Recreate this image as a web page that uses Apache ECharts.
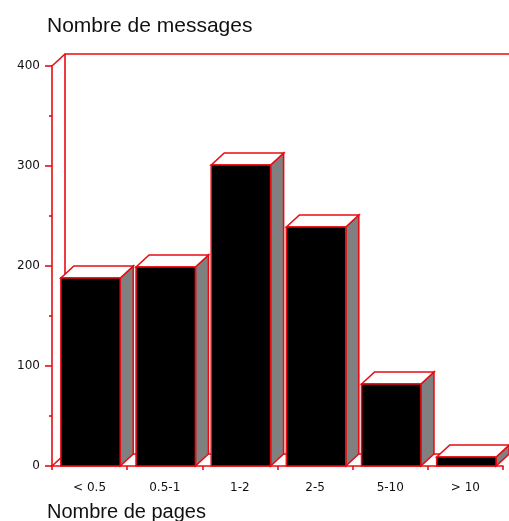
<!DOCTYPE html>
<html>
<head>
<meta charset="utf-8">
<script src="https://cdn.jsdelivr.net/npm/echarts@6/dist/echarts.min.js"></script>
<style>
  html, body { margin: 0; padding: 0; background: #fff; }
  #chart { width: 509px; height: 521px; }
</style>
</head>
<body>
<div id="chart"></div>
<script>
// data
const categories = ["< 0.5", "0.5-1", "1-2", "2-5", "5-10", "> 10"];
const messages = [188, 199, 301, 239, 82, 9];
const yMin = 0, yMax = 400, yStep = 100;
const yTitle = "Nombre de messages";
const xTitle = "Nombre de pages";

const RED = "#e80c14";
const DX = 13, DY = 12; // depth of the 3d effect

const chart = echarts.init(document.getElementById("chart"));

// back wall, left wall and floor of the 3d box
function renderWalls(params, api) {
  const cs = params.coordSys;
  const l = cs.x, t = cs.y, r = cs.x + cs.width, b = cs.y + cs.height;
  const line = { stroke: RED, lineWidth: 1.6, fill: null };
  return {
    type: "group",
    silent: true,
    children: [
      { type: "polygon", shape: { points: [[l + DX, t - DY], [r + DX, t - DY], [r + DX, b - DY], [l + DX, b - DY]] },
        style: { fill: "#fff", stroke: RED, lineWidth: 1.6 } },
      { type: "polyline", shape: { points: [[l, t], [l + DX, t - DY]] }, style: line },
      { type: "polyline", shape: { points: [[l, b], [l + DX, b - DY]] }, style: line }
    ]
  };
}

// one 3d bar: front face, top face, right face
function renderBar(params, api) {
  const i = api.value(0), v = api.value(1);
  const base = api.coord([i, 0]);
  const top = api.coord([i, v]);
  const w = api.size([1, 0])[0] * 0.79;
  const x0 = base[0] - w / 2 + 1, x1 = x0 + w;
  const yb = base[1], yt = top[1];
  return {
    type: "group",
    children: [
      { type: "polygon", shape: { points: [[x1, yt], [x1 + DX, yt - DY], [x1 + DX, yb - DY], [x1, yb]] },
        style: { fill: "#808080", stroke: RED, lineWidth: 1.6 } },
      { type: "polygon", shape: { points: [[x0, yt], [x0 + DX, yt - DY], [x1 + DX, yt - DY], [x1, yt]] },
        style: { fill: "#fff", stroke: RED, lineWidth: 1.6 } },
      { type: "rect", shape: { x: x0, y: yt, width: w, height: yb - yt },
        style: { fill: "#000", stroke: RED, lineWidth: 1.6 } }
    ]
  };
}

chart.setOption({
  animation: false,
  backgroundColor: "#fff",
  title: [
    { text: yTitle, left: 47, top: 16, padding: 0,
      textStyle: { fontFamily: "Liberation Sans", fontSize: 21, fontWeight: "normal", color: "#111" } },
    { text: xTitle, left: 47, top: 502, padding: 0,
      textStyle: { fontFamily: "Liberation Sans", fontSize: 20, fontWeight: "normal", color: "#111" } }
  ],
  grid: { left: 52, top: 66, right: 6, bottom: 55, containLabel: false },
  xAxis: {
    type: "category",
    data: categories,
    axisLine: { lineStyle: { color: RED, width: 1.6 } },
    axisTick: { show: true, length: 4, lineStyle: { color: RED, width: 1.6 } },
    axisLabel: { color: "#111", fontFamily: "DejaVu Sans", fontSize: 12, margin: 16 },
    splitLine: { show: false }
  },
  yAxis: {
    type: "value",
    min: yMin,
    max: yMax,
    interval: yStep,
    axisLine: { show: true, lineStyle: { color: RED, width: 1.6 } },
    axisTick: { show: true, length: 7, lineStyle: { color: RED, width: 1.6 } },
    minorTick: { show: true, splitNumber: 2, length: 3, lineStyle: { color: RED, width: 1.6 } },
    axisLabel: { color: "#111", fontFamily: "DejaVu Sans", fontSize: 12, margin: 12 },
    splitLine: { show: false }
  },
  series: [
    { type: "custom", renderItem: renderWalls, data: [[0, 0]], z: 1, silent: true },
    { type: "custom", renderItem: renderBar, z: 3,
      data: messages.map((v, i) => [i, v]) }
  ]
});
</script>
</body>
</html>
